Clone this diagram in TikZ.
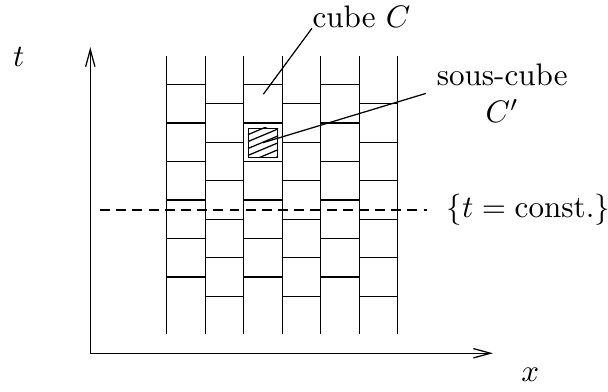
\documentclass[tikz,border=0pt]{standalone}
\usepackage{amsmath}
\usetikzlibrary{arrows.meta}

\begin{document}
\begin{tikzpicture}[x=0.435cm, y=0.435cm, axis/.style={-{Straight Barb[length=5.5pt, width=3pt]}},
    timeslice/.style={dash pattern=on 3.2pt off 2pt, shorten >=2.8pt}]

    \useasboundingbox (0,0) rectangle (15.79,10.156);

    \coordinate (O) at (2.345, 0.982);
    \coordinate (T) at (2.345, 8.93);
    \coordinate (X) at (12.80, 0.982);

    \draw[axis] (O) -- (T);
    \draw[axis] (O) -- (X);
    \node (tlbl) at (0.49, 8.68) {$t$};
    \node (xlbl) at (13.77, 0.415) {$x$};

    % columns of cubes, every second one shifted by half a cube
    \foreach \i in {0,...,6} \draw (4.33+\i, 1.47) -- (4.33+\i, 8.70);
    \foreach \i in {0,2,4} \foreach \k in {0,...,5} \draw (4.33+\i, 2.96+\k) -- ++(1,0);
    \foreach \i in {1,3,5} \foreach \k in {0,...,5} \draw (4.33+\i, 2.46+\k) -- ++(1,0);

    \node[draw, minimum size=0.75*0.435cm, inner sep=0] (subcube) at (6.83, 6.45) {};
    \begin{scope}
        \clip (subcube.south west) rectangle (subcube.north east);
        \foreach \c in {-0.3,-0.12,0.06,0.24,0.42,0.60}
            \draw[shift={(subcube.south west)}] (0,\c) -- ++(1,0.42);
    \end{scope}

    \coordinate (dstart) at (2.60, 4.70);
    \node[anchor=west] (tconst) at (11.31, 4.70) {$\{t = \mathrm{const.}\}$};
    \draw[timeslice] (dstart) -- (tconst);

    \node[inner sep=0, anchor=south west] (cubeC) at (8.10, 9.42) {cube $C$};
    \coordinate (cpt) at (6.84, 7.71);
    \draw (cubeC.south west) -- (cpt);

    \node[anchor=west, align=center] (subl) at (11.06, 7.73) {sous-cube\\$C'$};
    \draw (subl.west) -- (subcube.center);

\end{tikzpicture}
\end{document}
